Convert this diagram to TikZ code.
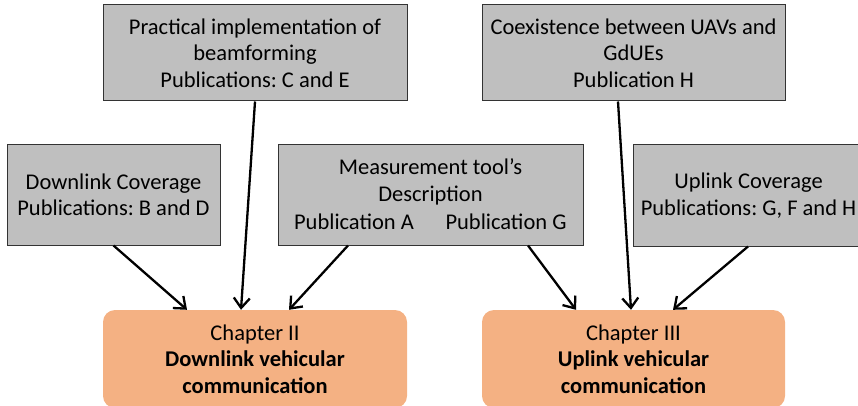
\documentclass[tikz,border=0pt]{standalone}
\usepackage{fontspec}
\setmainfont{Carlito}
\usetikzlibrary{arrows.meta,calc}
\definecolor{boxgray}{RGB}{191,191,191}
\definecolor{chorange}{RGB}{244,177,131}
\frenchspacing
\begin{document}
\begin{tikzpicture}[x=1pt,y=-1pt,
  txt/.style={font=\fontsize{22.5}{26.5}\selectfont, align=center, inner sep=0pt},
  graybox/.style={draw=black!80, line width=1pt, fill=boxgray, inner sep=0pt, txt},
  chbox/.style={fill=chorange, rounded corners=12pt, inner sep=0pt, txt},
  conn/.style={line width=2.3pt, -{Straight Barb[length=10pt,width=16pt,line width=2.3pt]}}]
\clip (0,0) rectangle (858,406);
\node[graybox, minimum width=304pt, minimum height=96pt] (prac) at (255,53) {Practical implementation of\\beamforming\\Publications: C and E};
\node[graybox, minimum width=303pt, minimum height=96pt] (coex) at (633.5,53) {Coexistence between UAVs and\\GdUEs\\Publication H};
\node[graybox, minimum width=213pt, minimum height=100pt] (down) at (113.5,195) {Downlink Coverage\\Publications: B and D};
\node[graybox, minimum width=305pt, minimum height=100pt] (meas) at (430.5,195) {};
\node[txt] (meast) at (430.5,182) {Measurement tool’s\\Description};
\node[txt, anchor=base] (pubA) at (354,229) {Publication A};
\node[txt, anchor=base] (pubG) at (506,229) {Publication G};
\node[graybox, minimum width=231pt, minimum height=101pt] (up) at (748.5,195.5) {Uplink Coverage\\Publications: G, F and H};
\node[chbox, minimum width=304pt, minimum height=98pt] (ch2) at (255,359) {Chapter II\\\textbf{Downlink vehicular}\\\textbf{communication}};
\node[chbox, minimum width=303pt, minimum height=98pt] (ch3) at (633.5,359) {Chapter III\\\textbf{Uplink vehicular}\\\textbf{communication}};
\draw[conn] (prac.south) -- ($(ch2.north)+(-14,0)$);
\draw[conn] ($(down.south)+(0,0)$) -- ($(ch2.north)+(-68,0)$);
\draw[conn] ($(meas.south)+(-82.5,0)$) -- ($(ch2.north)+(34,0)$);
\draw[conn] ($(meas.south)+(97.5,0)$) -- ($(ch3.north)+(-57.5,0)$);
\draw[conn] ($(coex.south)+(-15.5,0)$) -- ($(ch3.north)+(-2.5,0)$);
\draw[conn] ($(up.south)+(-0.5,0)$) -- ($(ch3.north)+(39.5,0)$);
\end{tikzpicture}
\end{document}
